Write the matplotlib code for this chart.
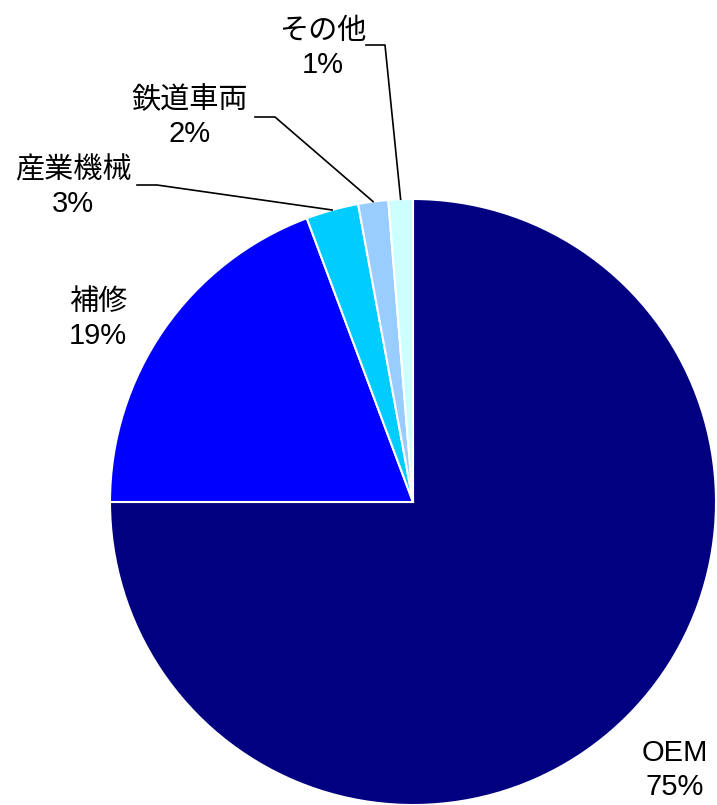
import numpy as np
import matplotlib.pyplot as plt

plt.rcParams['font.family'] = ['Liberation Sans', 'Noto Sans CJK JP', 'DejaVu Sans']

# Data
categories = ['OEM', '補修', '産業機械', '鉄道車両', 'その他']
shares = [75.0, 19.3, 2.8, 1.6, 1.3]
pct_labels = ['75%', '19%', '3%', '2%', '1%']
colors = ['#000080', '#0000FF', '#00CCFF', '#99CCFF', '#CCFFFF']

W, H = 717, 805
fig = plt.figure(figsize=(W / 100, H / 100), dpi=100)
ax = fig.add_axes([0, 0, 1, 1])
ax.set_xlim(0, W)
ax.set_ylim(0, H)
ax.axis('off')

cx, cy, r = 413, H - 502, 303
wedges, _ = ax.pie(shares, colors=colors, startangle=90, counterclock=False,
                   center=(cx, cy), radius=r, frame=True,
                   wedgeprops={'edgecolor': 'white', 'linewidth': 1.5})
ax.set_xlim(0, W)
ax.set_ylim(0, H)
ax.axis('off')

# label text centres (pixel coords, y from top) and leader knee points
label_pos = [(675, 770), (98, 319), (73, 187), (190, 117), (323, 48)]
leader_knee = [None, None, (137, 185), (255, 117), (366, 45)]
leader_bend = [None, None, (157, 185), (275, 117), (385, 45)]

for i, w in enumerate(wedges):
    x, y = label_pos[i]
    ax.text(x, H - y, categories[i] + '\n' + pct_labels[i], ha='center',
            va='center', fontsize=21, linespacing=1.25, color='black')
    if leader_knee[i] is not None:
        theta = np.deg2rad((w.theta1 + w.theta2) / 2)
        ex = cx + r * np.cos(theta)
        ey = cy + r * np.sin(theta)
        kx, ky = leader_knee[i]
        bx, by = leader_bend[i]
        ax.plot([kx, bx, ex], [H - ky, H - by, ey], color='black', lw=1.2)

fig.savefig('out.png', dpi=100)
